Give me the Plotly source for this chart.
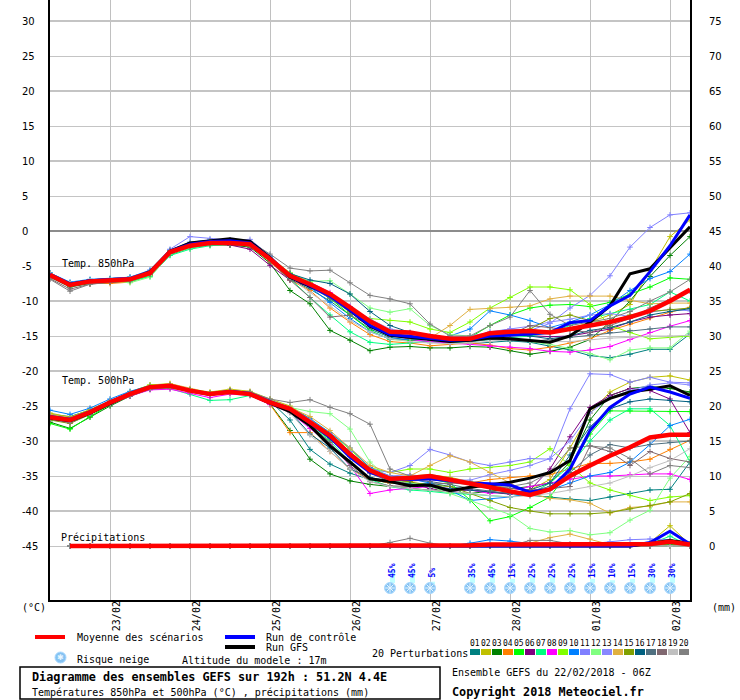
import plotly.graph_objects as go

# ---------------- DATA ----------------
hours = [0, 6, 12, 18, 24, 30, 36, 42, 48, 54, 60, 66, 72, 78, 84, 90, 96,
         102, 108, 114, 120, 126, 132, 138, 144, 150, 156, 162, 168, 174, 180, 186, 192]
date_ticks = [18, 42, 66, 90, 114, 138, 162, 186]
date_labels = ["23/02", "24/02", "25/02", "26/02", "27/02", "28/02", "01/03", "02/03"]
temp_ticks = [-45, -40, -35, -30, -25, -20, -15, -10, -5, 0, 5, 10, 15, 20, 25, 30]
rr_ticks = [0, 5, 10, 15, 20, 25, 30, 35, 40, 45, 50, 55, 60, 65, 70, 75]
member_names = ["01", "02", "03", "04", "05", "06", "07", "08", "09", "10",
                "11", "12", "13", "14", "15", "16", "17", "18", "19", "20"]
member_colors = ["#008080", "#c0c000", "#008000", "#ff8000", "#00ff00", "#800080", "#00ff80",
                 "#ff00ff", "#80ff00", "#0080ff", "#8080ff", "#80ff80", "#8888ff", "#e0b040",
                 "#80a000", "#006080", "#507080", "#806870", "#c0c0c0", "#808080"]

# 850 hPa temperature (deg C)
t850_mean = [-6.3,-7.7,-7.2,-7.0,-6.9,-6.0,-3.0,-2.1,-1.7,-1.7,-1.9,-4.0,-6.4,-7.6,-9.0,-10.9,-12.9,
             -14.4,-14.5,-15.0,-15.4,-15.4,-14.6,-14.4,-14.3,-14.5,-14.0,-13.6,-13.0,-12.3,-11.4,-10.0,-8.4]
t850_ctrl = [-6.2,-7.6,-7.1,-7.0,-6.8,-5.9,-2.9,-1.9,-1.5,-1.4,-1.7,-3.9,-6.5,-7.8,-9.3,-11.3,-13.5,
             -14.8,-15.1,-15.4,-15.6,-15.5,-15.0,-14.9,-14.7,-14.5,-13.1,-12.8,-10.7,-9.2,-5.8,-2.1,2.3]
t850_gfs = [-6.3,-7.6,-7.1,-7.0,-6.9,-5.8,-2.9,-1.7,-1.4,-1.1,-1.5,-3.8,-6.6,-7.9,-9.0,-11.3,-13.6,
            -14.9,-15.2,-15.6,-15.8,-15.6,-15.3,-15.4,-15.6,-15.9,-15.0,-13.0,-10.7,-6.1,-5.4,-2.4,0.6]
t850_p01 = [-6.0,-7.4,-7.0,-6.8,-6.6,-5.7,-3.2,-2.3,-1.8,-1.9,-2.0,-4.3,-6.9,-8.3,-10.0,-12.0,-14.0,
            -15.2,-15.6,-15.8,-16.0,-16.1,-15.9,-15.7,-15.9,-16.5,-17.0,-17.8,-18.1,-17.6,-16.9,-16.9,-14.7]
t850_p02 = [-6.4,-7.9,-7.4,-7.2,-7.1,-6.2,-2.8,-1.8,-1.4,-1.5,-1.8,-3.8,-6.0,-7.4,-9.2,-11.0,-13.2,
            -14.8,-15.0,-15.2,-15.6,-15.6,-15.0,-14.6,-14.4,-14.2,-14.0,-13.0,-12.0,-10.5,-5.7,-0.8,1.6]
t850_p03 = [-6.6,-8.0,-7.5,-7.3,-7.2,-6.4,-3.4,-2.4,-2.0,-2.0,-2.3,-4.6,-8.5,-10.4,-14.2,-15.6,-17.1,
            -16.6,-16.5,-16.7,-16.7,-16.5,-16.6,-17.1,-17.6,-17.2,-16.6,-15.5,-13.0,-10.0,-6.5,-3.5,-0.8]
t850_p04 = [-6.2,-7.6,-7.5,-7.5,-7.3,-6.3,-3.1,-2.3,-1.9,-1.8,-2.1,-4.4,-7.0,-8.5,-11.0,-13.0,-14.8,
            -15.8,-16.0,-16.4,-16.2,-16.0,-16.3,-16.8,-17.0,-16.6,-16.0,-15.4,-14.2,-13.3,-12.4,-11.6,-10.9]
t850_p05 = [-6.1,-7.5,-7.0,-6.9,-6.8,-5.8,-2.9,-1.9,-1.6,-1.6,-1.8,-3.9,-6.3,-7.8,-9.6,-12.0,-14.2,
            -15.5,-15.6,-15.4,-15.8,-15.2,-13.5,-12.0,-11.0,-10.6,-10.5,-10.8,-10.2,-9.0,-8.0,-6.7,-6.9]
t850_p06 = [-6.5,-7.9,-7.3,-7.2,-7.0,-6.2,-3.3,-2.2,-1.8,-2.0,-2.6,-4.9,-7.0,-8.0,-9.5,-11.5,-13.5,
            -15.0,-15.2,-15.5,-15.7,-15.6,-15.0,-14.8,-14.9,-15.1,-15.0,-14.5,-14.0,-13.0,-12.3,-12.0,-11.8]
t850_p07 = [-6.3,-7.6,-7.1,-7.0,-7.2,-6.5,-3.5,-2.6,-2.1,-1.9,-2.0,-4.2,-6.8,-9.5,-12.0,-14.4,-15.9,
            -16.2,-16.0,-15.8,-15.9,-15.8,-15.5,-15.2,-15.0,-14.5,-13.5,-12.5,-11.8,-11.2,-10.5,-8.7,-10.0]
t850_p08 = [-6.4,-7.8,-7.2,-7.0,-6.8,-6.0,-2.9,-2.0,-1.6,-1.6,-1.7,-3.8,-6.2,-7.3,-8.8,-10.8,-13.0,
            -14.8,-15.5,-15.8,-16.0,-16.2,-16.5,-16.6,-16.8,-17.2,-17.3,-17.0,-16.5,-15.5,-14.5,-13.6,-12.8]
t850_p09 = [-6.2,-7.5,-7.1,-6.9,-6.7,-5.8,-2.8,-1.9,-1.5,-1.5,-1.7,-3.7,-6.0,-7.4,-9.5,-11.5,-12.5,
            -12.8,-13.0,-14.0,-14.5,-13.0,-11.0,-9.5,-8.0,-8.0,-8.4,-10.5,-13.5,-14.5,-15.4,-15.2,-15.0]
t850_p10 = [-6.0,-7.3,-6.9,-6.8,-6.6,-5.6,-2.7,-1.6,-1.3,-1.4,-1.6,-3.6,-6.4,-8.0,-10.2,-12.5,-14.4,
            -15.4,-15.5,-15.5,-15.0,-14.0,-11.4,-12.0,-12.8,-13.8,-13.0,-12.0,-10.5,-8.5,-6.8,-5.8,-3.3]
t850_p11 = [-6.1,-7.4,-7.0,-6.9,-6.7,-5.6,-2.6,-0.8,-1.1,-1.3,-1.2,-3.5,-6.2,-7.5,-9.3,-11.0,-13.0,
            -14.6,-14.8,-15.0,-15.2,-15.0,-14.5,-14.0,-14.2,-13.2,-11.0,-9.2,-6.4,-2.3,0.5,2.3,2.6]
t850_p12 = [-6.4,-7.6,-7.1,-7.0,-7.4,-6.6,-3.3,-2.4,-1.9,-1.8,-1.9,-3.9,-6.0,-7.2,-7.1,-9.0,-11.0,
            -11.6,-11.1,-13.5,-14.8,-15.0,-15.2,-15.5,-15.8,-16.2,-16.8,-17.5,-18.4,-17.0,-16.7,-16.7,-14.3]
t850_p13 = [-6.3,-7.6,-7.2,-7.1,-6.9,-6.0,-3.0,-2.0,-1.5,-1.6,-1.8,-4.0,-6.5,-7.7,-9.0,-10.8,-12.6,
            -14.0,-14.6,-15.2,-15.6,-15.2,-14.4,-14.0,-13.6,-13.0,-12.6,-12.0,-11.8,-12.2,-11.6,-11.2,-11.4]
t850_p14 = [-6.1,-7.5,-7.3,-7.2,-7.0,-6.1,-3.0,-1.9,-1.5,-1.6,-1.9,-4.1,-6.3,-7.5,-9.0,-11.0,-13.0,
            -14.5,-15.0,-15.3,-13.5,-11.2,-11.1,-10.9,-10.7,-9.7,-9.3,-9.3,-9.3,-9.9,-10.4,-10.3,-10.3]
t850_p15 = [-6.5,-7.9,-7.4,-7.1,-7.0,-6.2,-3.2,-2.2,-1.8,-1.8,-2.0,-4.2,-6.6,-7.8,-9.4,-11.4,-13.4,
            -14.8,-15.4,-15.4,-15.6,-15.6,-15.2,-14.8,-14.0,-12.5,-12.0,-12.8,-13.0,-12.0,-11.5,-11.2,-11.0]
t850_p16 = [-6.3,-7.7,-7.3,-6.9,-6.8,-5.9,-2.9,-2.0,-1.6,-1.5,-1.7,-3.9,-6.1,-7.0,-7.5,-9.0,-11.5,
            -13.5,-14.5,-15.2,-15.6,-15.5,-15.0,-14.8,-15.0,-15.4,-15.0,-14.2,-13.8,-13.0,-12.0,-11.5,-11.1]
t850_p17 = [-6.6,-7.8,-7.3,-7.1,-7.0,-6.1,-3.1,-2.1,-1.7,-1.8,-1.9,-4.1,-6.7,-8.0,-9.6,-11.6,-13.6,
            -15.0,-15.3,-15.6,-15.8,-15.8,-15.5,-15.6,-15.8,-15.5,-15.2,-14.8,-14.5,-14.2,-14.0,-13.7,-13.7]
t850_p18 = [-6.8,-8.3,-7.6,-7.3,-7.1,-6.2,-3.2,-2.3,-1.9,-1.9,-2.1,-4.3,-7.0,-9.5,-12.3,-12.0,-13.5,
            -14.8,-15.0,-15.4,-15.5,-15.4,-15.0,-14.8,-13.5,-13.8,-14.2,-14.5,-13.5,-12.5,-11.0,-9.8,-8.6]
t850_p19 = [-6.2,-7.6,-7.1,-6.9,-6.8,-5.9,-3.0,-2.0,-1.6,-1.6,-1.8,-4.0,-6.6,-8.8,-10.7,-12.8,-14.4,
            -15.4,-15.8,-16.0,-16.1,-16.0,-15.8,-15.5,-15.6,-15.8,-15.8,-15.5,-15.3,-15.2,-15.0,-15.0,-14.9]
t850_p20 = [-6.9,-8.6,-7.6,-7.3,-7.0,-5.9,-2.8,-1.8,-1.4,-1.3,-1.5,-3.3,-5.3,-5.7,-5.6,-7.4,-9.2,
            -9.7,-10.4,-13.3,-15.0,-15.0,-13.5,-12.3,-8.5,-11.9,-13.5,-13.0,-12.5,-11.5,-10.0,-8.7,-6.9]

# 500 hPa temperature (deg C)
t500_mean = [-26.6,-27.0,-25.9,-24.5,-23.3,-22.3,-22.1,-22.8,-23.3,-23.0,-23.3,-24.5,-25.4,-27.3,-29.2,-31.9,-34.2,
             -35.4,-35.3,-35.0,-35.5,-36.1,-36.6,-37.2,-37.7,-36.9,-35.0,-33.5,-32.1,-30.9,-29.5,-29.1,-29.1]
t500_ctrl = [-26.5,-26.9,-25.8,-24.4,-23.2,-22.3,-22.1,-22.8,-23.3,-22.9,-23.2,-24.4,-25.5,-27.4,-29.5,-32.3,-34.5,
             -35.4,-35.5,-35.4,-35.7,-36.0,-36.1,-36.3,-37.3,-36.9,-34.0,-28.5,-25.2,-23.3,-22.3,-23.0,-23.9]
t500_gfs = [-26.7,-27.1,-26.0,-24.6,-23.3,-22.3,-22.1,-22.8,-23.3,-23.0,-23.3,-24.6,-25.8,-27.8,-30.7,-33.0,-35.4,
            -35.8,-36.4,-36.3,-37.1,-36.6,-36.3,-35.9,-35.3,-34.5,-32.8,-25.4,-23.9,-23.0,-22.6,-22.1,-23.5]
t500_p01 = [-26.2,-26.5,-25.6,-24.3,-23.2,-22.4,-22.2,-22.9,-23.5,-23.0,-23.2,-24.3,-27.0,-31.2,-33.3,-34.6,-35.5,
            -36.0,-36.2,-36.0,-36.5,-37.0,-37.3,-37.5,-37.8,-38.0,-38.3,-38.5,-38.0,-37.5,-37.0,-36.9,-33.0]
t500_p02 = [-26.0,-26.6,-25.5,-24.2,-23.0,-22.0,-21.8,-22.6,-23.0,-22.6,-22.9,-24.0,-25.0,-26.8,-29.0,-31.5,-34.0,
            -35.2,-35.0,-34.8,-35.2,-35.8,-36.2,-36.8,-37.0,-35.5,-31.0,-26.0,-23.0,-21.6,-20.9,-20.7,-21.3]
t500_p03 = [-27.3,-28.2,-26.6,-25.0,-23.6,-22.6,-22.3,-22.9,-23.4,-23.1,-23.4,-24.7,-28.5,-32.6,-34.7,-35.7,-36.2,
            -36.5,-36.8,-37.0,-37.3,-37.5,-37.2,-36.8,-36.5,-36.0,-33.0,-27.0,-23.5,-22.5,-22.2,-22.5,-23.0]
t500_p04 = [-26.8,-27.2,-26.0,-24.6,-23.4,-22.5,-22.3,-22.9,-23.4,-23.1,-23.4,-24.8,-28.8,-28.8,-31.5,-34.0,-35.5,
            -36.0,-35.8,-35.5,-35.8,-36.0,-35.5,-35.2,-35.0,-34.8,-34.0,-33.2,-33.2,-33.0,-32.6,-31.2,-29.9]
t500_p05 = [-27.5,-28.3,-26.5,-24.8,-23.4,-22.4,-22.2,-23.0,-23.5,-23.0,-23.3,-24.6,-25.6,-27.6,-29.8,-32.0,-34.2,
            -35.0,-35.2,-35.4,-36.0,-38.4,-41.4,-40.8,-39.5,-38.0,-34.0,-29.0,-25.7,-25.7,-25.7,-25.8,-25.8]
t500_p06 = [-26.7,-27.1,-26.0,-24.6,-23.3,-22.4,-22.2,-22.8,-23.4,-23.0,-23.3,-24.5,-25.5,-27.5,-29.5,-32.0,-34.5,
            -35.5,-36.0,-36.8,-37.2,-37.0,-37.3,-37.6,-37.0,-34.0,-29.4,-25.2,-23.5,-22.5,-22.8,-24.0,-28.8]
t500_p07 = [-26.5,-27.0,-26.0,-24.6,-23.5,-22.6,-22.5,-23.3,-24.2,-24.1,-23.5,-24.6,-25.8,-27.8,-30.0,-33.0,-35.5,
            -36.5,-37.0,-37.2,-37.5,-37.6,-37.8,-38.0,-37.6,-36.0,-33.5,-30.0,-27.0,-25.4,-25.4,-27.8,-33.0]
t500_p08 = [-26.9,-27.3,-26.1,-24.7,-23.6,-22.7,-22.6,-23.2,-23.8,-23.3,-23.5,-24.8,-25.9,-28.2,-30.5,-33.5,-37.5,
            -37.0,-36.8,-36.5,-36.8,-37.0,-37.5,-37.2,-36.5,-36.0,-35.4,-35.0,-35.0,-34.8,-34.7,-34.7,-35.5]
t500_p09 = [-26.3,-26.8,-25.8,-24.4,-23.0,-22.0,-21.9,-22.6,-23.1,-22.7,-23.1,-24.3,-25.3,-27.0,-28.8,-31.2,-33.8,
            -34.5,-34.0,-34.0,-34.5,-34.0,-33.8,-33.5,-33.0,-31.1,-33.5,-36.0,-37.0,-37.8,-38.5,-38.0,-37.8]
t500_p10 = [-25.6,-26.2,-25.3,-24.0,-22.9,-22.1,-22.0,-22.7,-23.2,-22.9,-23.1,-24.2,-25.2,-26.8,-28.8,-31.0,-33.8,
            -35.0,-35.4,-36.0,-37.0,-38.5,-38.3,-38.0,-37.5,-37.0,-36.0,-35.0,-34.5,-33.0,-30.5,-27.8,-26.9]
t500_p11 = [-26.4,-26.9,-25.8,-24.3,-23.1,-22.2,-22.0,-22.6,-23.2,-22.8,-23.2,-24.3,-25.3,-27.2,-29.0,-31.5,-34.0,
            -34.5,-33.5,-31.2,-32.0,-33.0,-33.5,-33.0,-32.5,-32.6,-25.4,-20.4,-20.5,-21.6,-20.9,-21.6,-21.7]
t500_p12 = [-26.6,-27.0,-26.0,-24.6,-23.4,-22.4,-22.3,-22.9,-23.3,-23.0,-23.4,-24.6,-25.2,-25.8,-26.1,-28.3,-33.0,
            -35.5,-36.0,-36.5,-37.5,-38.5,-39.5,-40.5,-42.5,-43.0,-42.8,-43.4,-43.1,-41.3,-39.9,-35.3,-32.2]
t500_p13 = [-26.5,-27.0,-25.9,-24.5,-23.2,-22.3,-22.1,-22.8,-23.3,-22.9,-23.3,-24.4,-25.4,-27.0,-29.0,-31.6,-34.0,
            -35.0,-34.8,-35.2,-35.5,-35.6,-34.8,-34.2,-33.5,-32.5,-30.0,-26.0,-23.8,-22.8,-22.0,-21.7,-22.0]
t500_p14 = [-26.2,-26.7,-25.7,-24.3,-23.1,-22.1,-21.8,-22.5,-23.1,-22.7,-23.0,-24.2,-25.2,-26.5,-28.5,-31.0,-33.5,
            -34.5,-35.0,-33.5,-32.1,-33.0,-34.5,-36.0,-37.5,-38.2,-38.4,-38.9,-40.3,-39.5,-39.3,-38.7,-38.7]
t500_p15 = [-27.0,-27.5,-26.2,-24.7,-23.4,-22.3,-22.0,-22.7,-23.2,-22.8,-23.1,-24.4,-25.6,-27.5,-29.4,-32.0,-34.3,
            -35.4,-35.8,-36.3,-36.5,-37.5,-38.5,-39.5,-40.0,-40.4,-40.4,-40.4,-40.2,-39.7,-39.2,-38.7,-37.5]
t500_p16 = [-26.8,-27.2,-26.1,-24.6,-23.4,-22.4,-22.2,-22.8,-23.3,-22.9,-23.3,-24.5,-25.8,-29.0,-31.0,-34.0,-35.2,
            -35.8,-36.2,-36.5,-36.8,-37.0,-37.2,-37.5,-37.0,-36.0,-32.0,-28.0,-25.4,-24.4,-24.0,-24.2,-24.4]
t500_p17 = [-26.5,-27.0,-25.9,-24.5,-23.3,-22.4,-22.2,-22.9,-23.3,-23.0,-23.3,-24.5,-25.6,-27.6,-29.6,-32.2,-34.6,
            -35.8,-35.5,-35.8,-36.2,-36.8,-37.2,-37.5,-37.2,-36.5,-34.5,-32.0,-30.5,-31.0,-30.5,-30.2,-30.0]
t500_p18 = [-26.9,-27.4,-26.2,-24.8,-23.6,-22.6,-22.4,-23.0,-23.5,-23.1,-23.4,-24.6,-25.8,-27.8,-30.2,-33.5,-35.8,
            -36.4,-36.5,-36.2,-36.0,-36.2,-36.5,-36.8,-37.0,-36.8,-36.5,-30.7,-31.5,-33.5,-31.5,-32.5,-33.0]
t500_p19 = [-26.7,-27.1,-26.0,-24.6,-23.4,-22.4,-22.1,-22.8,-23.3,-23.0,-23.3,-24.5,-26.0,-29.2,-31.5,-34.0,-35.8,
            -36.5,-36.8,-37.0,-37.2,-37.5,-37.8,-38.0,-37.8,-37.5,-37.0,-36.5,-36.0,-35.0,-33.8,-32.8,-31.1]
t500_p20 = [-26.4,-26.9,-25.8,-24.4,-23.2,-22.3,-22.1,-22.7,-23.2,-22.8,-23.0,-24.0,-24.5,-24.1,-25.2,-26.1,-27.6,
            -34.0,-35.0,-35.5,-35.8,-36.0,-36.3,-36.5,-36.0,-34.5,-31.0,-30.7,-31.0,-32.5,-34.7,-33.5,-33.8]

# precipitation (mm, 6 h), no value at the analysis time
rr_mean = [None,0,0,0,0,0,0,0, 0,0,0,0,0,0,0,0, 0.1,0.1,0.1,0.1,0.1,0.1,0.2,0.2, 0.2,0.2,0.2,0.2,0.2,0.2,0.3,0.6,0.2]
rr_ctrl = [None,0,0,0,0,0,0,0, 0,0,0,0,0,0,0,0, 0,0,0,0,0,0,0,0, 0,0,0,0,0,0,0.5,2.1,0.3]
rr_gfs = [None,0,0,0,0,0,0,0, 0,0,0,0,0,0,0,0, 0,0,0,0,0,0,0,0, 0,0,0,0,0,0,0.4,0.8,0.4]
rr_p01 = [None,0,0,0,0,0,0,0, 0,0,0,0,0,0,0,0, 0,0,0,0,0,0,0,0, 0,0,0,0,0,0,0,0.2,0]
rr_p02 = [None,0,0,0,0,0,0,0, 0,0,0,0,0,0,0,0, 0,0,0,0,0,0,0,0, 0,0,0,0,0,0,0.5,2.9,0.2]
rr_p03 = [None,0,0,0,0,0,0,0, 0,0,0,0,0,0,0,0, 0,0,0,0,0,0,0,0, 0,0,0,0,0,0,0,0.6,0.3]
rr_p04 = [None,0,0,0,0,0,0,0, 0,0,0,0,0,0,0,0, 0,0,0,0,0,0,0,0, 0,0,0,0,0,0,0,0,0]
rr_p05 = [None,0,0,0,0,0,0,0, 0,0,0,0,0,0,0,0, 0,0,0,0,0,0,0,0, 0,0,0,0,0,0,0,0.3,0]
rr_p06 = [None,0,0,0,0,0,0,0, 0,0,0,0,0,0,0,0, 0,0,0,0,0,0,0,0, 0,0,0,0,0,0,0,0,0]
rr_p07 = [None,0,0,0,0,0,0,0, 0,0,0,0,0,0,0,0, 0,0,0,0,0,0,0,0, 0,0,0,0,0,0,0.3,1.4,0]
rr_p08 = [None,0,0,0,0,0,0,0, 0,0,0,0,0,0,0,0, 0,0,0,0,0,0,0,0, 0,0,0,0,0,0,0,0,0]
rr_p09 = [None,0,0,0,0,0,0,0, 0,0,0,0,0,0,0,0, 0,0,0,0,0,0,0,0, 0,0,0,0,0,0,0,0,0]
rr_p10 = [None,0,0,0,0,0,0,0, 0,0,0,0,0,0,0,0, 0,0,0,0,0,0.4,0.9,0.7, 0.3,0,0,0,0,0,0,0,0]
rr_p11 = [None,0,0,0,0,0,0,0, 0,0,0,0,0,0,0,0, 0,0,0,0,0,0,0,0, 0,0,0,0.3,0.6,0.9,1.0,0.9,0]
rr_p12 = [None,0,0,0,0,0,0,0, 0,0,0,0,0,0,0,0, 0,0,0,0,0,0,0,0, 0,0,0,0,0,0,0,0,0]
rr_p13 = [None,0,0,0,0,0,0,0, 0,0,0,0,0,0,0,0, 0,0,0,0,0,0,0,0, 0,0,0,0,0,0,0.3,0.5,0]
rr_p14 = [None,0,0,0,0,0,0,0, 0,0,0,0,0,0,0,0, 0,0,0,0,0,0,0,0, 0.4,1.2,1.7,1.0,0.2,0,0,0,0]
rr_p15 = [None,0,0,0,0,0,0,0, 0,0,0,0,0,0,0,0, 0,0,0,0,0,0,0,0, 0,0,0,0,0,0,0,0.4,0]
rr_p16 = [None,0,0,0,0,0,0,0, 0,0,0,0,0,0,0,0, 0,0,0,0,0,0,0,0, 0,0,0,0,0,0,0,0.6,0]
rr_p17 = [None,0,0,0,0,0,0,0, 0,0,0,0,0,0,0,0, 0,0,0,0,0,0,0,0, 0,0,0,0,0,0,0,0,0]
rr_p18 = [None,0,0,0,0,0,0,0, 0,0,0,0,0,0,0,0, 0,0,0,0,0,0,0,0, 0,0,0,0,0,0,0,0.7,0]
rr_p19 = [None,0,0,0,0,0,0,0, 0,0,0,0,0,0,0,0, 0,0,0,0,0,0,0,0, 0,0,0,0,0,0,0,0,0]
rr_p20 = [None,0,0,0,0,0,0,0, 0,0,0,0,0,0,0,0, 0,0.5,1.1,0.4,0,0,0,0, 0.8,0.8,0.3,0,0,0,0,0.5,0]

# snow risk (%)
snow_hours = [102, 108, 114, 126, 132, 138, 144, 150, 156, 162, 168, 174, 180, 186]
snow_pct = [45, 45, 5, 35, 45, 15, 25, 25, 25, 15, 10, 15, 30, 30]

members850 = [t850_p01, t850_p02, t850_p03, t850_p04, t850_p05, t850_p06, t850_p07, t850_p08, t850_p09, t850_p10,
              t850_p11, t850_p12, t850_p13, t850_p14, t850_p15, t850_p16, t850_p17, t850_p18, t850_p19, t850_p20]
members500 = [t500_p01, t500_p02, t500_p03, t500_p04, t500_p05, t500_p06, t500_p07, t500_p08, t500_p09, t500_p10,
              t500_p11, t500_p12, t500_p13, t500_p14, t500_p15, t500_p16, t500_p17, t500_p18, t500_p19, t500_p20]
members_rr = [rr_p01, rr_p02, rr_p03, rr_p04, rr_p05, rr_p06, rr_p07, rr_p08, rr_p09, rr_p10,
              rr_p11, rr_p12, rr_p13, rr_p14, rr_p15, rr_p16, rr_p17, rr_p18, rr_p19, rr_p20]

# ---------------- STYLE / LAYOUT ----------------
W, H = 740, 700
PL, PR, PT, PB = 50, 690, 0, 600          # plot area in pixels
Y_LO, Y_HI = -52.714, 33.0               # left axis range (deg C)
RR_OFFSET = 45                           # right axis (mm) = left axis + 45
MONO = "DejaVu Sans Mono"
SANS = "DejaVu Sans"
snow_base = -50.3
snow_scale = 0.041
snow_row = -51.0
date_label_shift = 2.0                    # hours: labels sit just right of their grid line


def pxx(x):
    return (x - PL) / (PR - PL)


def pxy(y):
    return (PB - y) / (PB - PT)


fig = go.Figure()


def add_members(series, yaxis):
    for k, ys in enumerate(series):
        c = member_colors[k]
        fig.add_trace(go.Scatter(
            x=hours, y=ys, yaxis=yaxis, mode="lines+markers", hoverinfo="skip",
            line=dict(color=c, width=1),
            marker=dict(symbol="cross-thin", size=4, color=c, line=dict(color=c, width=1)),
            name=member_names[k]))


def add_main(gfs, ctrl, mean, yaxis):
    fig.add_trace(go.Scatter(x=hours, y=gfs, yaxis=yaxis, mode="lines", hoverinfo="skip",
                             line=dict(color="#000000", width=3), name="Run GFS"))
    fig.add_trace(go.Scatter(x=hours, y=ctrl, yaxis=yaxis, mode="lines", hoverinfo="skip",
                             line=dict(color="#0000ff", width=3), name="Run de contrôle"))
    fig.add_trace(go.Scatter(x=hours, y=mean, yaxis=yaxis, mode="lines", hoverinfo="skip",
                             line=dict(color="#ff0000", width=4.5), name="Moyenne"))


add_members(members500, "y")
add_main(t500_gfs, t500_ctrl, t500_mean, "y")
add_members(members850, "y")
add_main(t850_gfs, t850_ctrl, t850_mean, "y")
add_members(members_rr, "y2")
add_main(rr_gfs, rr_ctrl, rr_mean, "y2")

# snow risk: cyan bars, snowflake icons, percentages
fig.add_trace(go.Bar(x=snow_hours, y=[p * snow_scale for p in snow_pct], base=snow_base,
                     width=1.5, offset=0, marker=dict(color="#c0ffff", line=dict(width=0)),
                     hoverinfo="skip", yaxis="y"))
fig.add_trace(go.Scatter(x=snow_hours, y=[snow_row for _ in snow_hours], mode="markers", hoverinfo="skip",
                         marker=dict(symbol="circle", size=11, color="#84c2f2",
                                     line=dict(color="#a8d8ff", width=1)), yaxis="y"))
fig.add_trace(go.Scatter(x=snow_hours, y=[snow_row for _ in snow_hours], mode="markers", hoverinfo="skip",
                         marker=dict(symbol="asterisk-open", size=8, color="#e8f6ff",
                                     line=dict(color="#eaf7ff", width=1)), yaxis="y"))

annotations = []
for h, p in zip(snow_hours, snow_pct):
    annotations.append(dict(x=h + 0.75, y=-49.85, xref="x", yref="y", text="<b>%d%%</b>" % p,
                            textangle=-90, showarrow=False, xanchor="center", yanchor="bottom",
                            font=dict(family=MONO, size=8, color="#0000ff")))

# date labels below the axis, rotated, reading upwards
for h, d in zip(date_ticks, date_labels):
    annotations.append(dict(x=h + date_label_shift, y=pxy(616.5), xref="x", yref="paper", text=d,
                            textangle=-90, showarrow=False, xanchor="center", yanchor="middle",
                            font=dict(family=MONO, size=10, color="black")))

# left tick labels (left aligned)
for v in temp_ticks:
    annotations.append(dict(x=pxx(20), y=v, xref="paper", yref="y", text=str(v), showarrow=False,
                            xanchor="left", yanchor="middle", font=dict(family=SANS, size=10, color="black")))


def label(x, y, text, size=10, bold=False, anchor="left", color="black"):
    t = "<b>%s</b>" % text if bold else text
    annotations.append(dict(x=pxx(x), y=pxy(y), xref="paper", yref="paper", text=t, showarrow=False,
                            xanchor=anchor, yanchor="middle", font=dict(family=MONO, size=size, color=color)))


label(60, 264, "Temp. 850hPa")
label(60, 380, "Temp. 500hPa")
label(59, 537, "Précipitations")
label(20, 607, "(°C)")
label(710, 607, "(mm)")
label(75, 637, "Moyenne des scénarios")
label(264, 637, "Run de contrôle")
label(264, 647, "Run GFS")
label(75, 659, "Risque neige")
label(180, 660, "Altitude du modele : 17m")
label(370, 653, "20 Perturbations")
label(30, 677, "Diagramme des ensembles GEFS sur 192h : 51.2N 4.4E", size=11.8, bold=True)
label(30, 692, "Températures 850hPa et 500hPa (°C) , précipitations (mm)")
label(450, 672, "Ensemble GEFS du 22/02/2018 - 06Z")
label(450, 692, "Copyright 2018 Meteociel.fr", size=11.8, bold=True)

shapes = []


def hline(x0, x1, y, color, width):
    shapes.append(dict(type="line", xref="paper", yref="paper", x0=pxx(x0), x1=pxx(x1),
                       y0=pxy(y), y1=pxy(y), line=dict(color=color, width=width)))


hline(35, 65, 637, "#ff0000", 4)
hline(225, 255, 637, "#0000ff", 4)
hline(225, 255, 647, "#000000", 4)
shapes.append(dict(type="circle", xref="paper", yref="paper", x0=pxx(55), x1=pxx(66),
                   y0=pxy(663), y1=pxy(652), fillcolor="#84c2f2", line=dict(color="#a8d8ff", width=1)))
annotations.append(dict(x=pxx(60.5), y=pxy(657.5), xref="paper", yref="paper", text="✱", showarrow=False,
                        xanchor="center", yanchor="middle", font=dict(family=SANS, size=8, color="#e8f6ff")))
shapes.append(dict(type="rect", xref="paper", yref="paper", x0=pxx(20), x1=pxx(440),
                   y0=pxy(699), y1=pxy(667), line=dict(color="black", width=1.5)))

for k, (nm, c) in enumerate(zip(member_names, member_colors)):
    x0 = 470 + 11 * k
    shapes.append(dict(type="rect", xref="paper", yref="paper", x0=pxx(x0), x1=pxx(x0 + 10),
                       y0=pxy(655), y1=pxy(649), fillcolor=c, line=dict(width=0)))
    annotations.append(dict(x=pxx(x0 + 5), y=pxy(643), xref="paper", yref="paper", text=nm, showarrow=False,
                            xanchor="center", yanchor="middle", font=dict(family=MONO, size=8, color="black")))

fig.update_layout(
    width=W, height=H,
    margin=dict(l=PL, r=W - PR, t=PT, b=H - PB, pad=0),
    paper_bgcolor="white", plot_bgcolor="white",
    showlegend=False, barmode="overlay",
    xaxis=dict(range=[0, 192], tickvals=date_ticks, ticktext=date_labels, showticklabels=False,
               showgrid=True, gridcolor="#c0c0c0", gridwidth=1, zeroline=False,
               showline=True, linecolor="black", linewidth=2, ticks="", fixedrange=True),
    yaxis=dict(range=[Y_LO, Y_HI], tickvals=[-40, -30, -20, -10, 0, 10, 20, 30], showticklabels=False,
               showgrid=True, gridcolor="#c4c4c4", gridwidth=2,
               minor=dict(tickvals=[-45, -35, -25, -15, -5, 5, 15, 25], showgrid=True,
                          gridcolor="#c4c4c4", gridwidth=1, ticks=""),
               zeroline=True, zerolinecolor="#8c8c8c", zerolinewidth=2,
               showline=True, mirror=True, linecolor="black", linewidth=2, ticks="", fixedrange=True),
    yaxis2=dict(range=[Y_LO + RR_OFFSET, Y_HI + RR_OFFSET], overlaying="y", side="right",
                tickvals=rr_ticks, showgrid=False, zeroline=False, showline=False, ticks="",
                ticklabelstandoff=18, tickfont=dict(family=SANS, size=10, color="black"), fixedrange=True),
    annotations=annotations, shapes=shapes,
)

fig.write_html("out.html", config={"displayModeBar": False},
               post_script="document.body.style.margin='0';document.body.style.overflow='hidden';")
